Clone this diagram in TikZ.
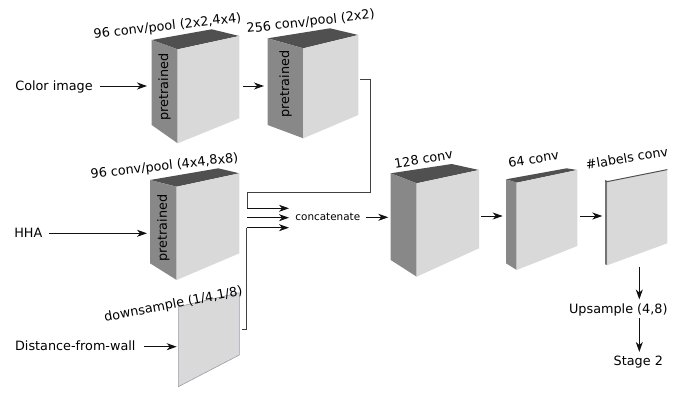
\documentclass[tikz,border=0pt]{standalone}
\usepackage{fontspec}
\setmainfont{DejaVu Sans}
\usetikzlibrary{arrows.meta}
\definecolor{topc}{HTML}{505050}
\definecolor{sidec}{HTML}{888888}
\definecolor{frontc}{HTML}{D9D9D9}
\definecolor{planeedge}{HTML}{9C9CAA}
\definecolor{linec}{HTML}{111111}
\newcommand{\cubebox}[8]{%
  \coordinate (#1-1) at (#2);
  \coordinate (#1-2) at (#3);
  \coordinate (#1-3) at (#4);
  \coordinate (#1-4) at (#5);
  \coordinate (#1-5) at (#6);
  \coordinate (#1-6) at (#7);
  \coordinate (#1-7) at (#8);
  \fill[topc] (#1-1)--(#1-2)--(#1-3)--(#1-4)--cycle;
  \fill[sidec] (#1-1)--(#1-4)--(#1-6)--(#1-5)--cycle;
  \fill[frontc] (#1-4)--(#1-3)--(#1-7)--(#1-6)--cycle;
}
\tikzset{
  txt/.style={font=\fontsize{12.8}{15}\selectfont, inner sep=0pt, anchor=base},
  lbl/.style={font=\fontsize{12.8}{15}\selectfont, inner sep=0pt, anchor=base west},
  small/.style={font=\fontsize{10.4}{12}\selectfont, inner sep=0pt, anchor=base},
  pre/.style={font=\fontsize{12.8}{15}\selectfont, inner sep=0pt, rotate=90},
  conn/.style={draw=linec, line width=1pt, -{Stealth[length=10pt,width=7pt,inset=3pt]}},
  wire/.style={draw=linec!80!white, line width=1pt},
}
\begin{document}
\begin{tikzpicture}[x=1pt,y=-1pt]
\useasboundingbox (0,0) rectangle (688,394);

% cubes
\cubebox{b1}{151.7,40}{211.7,29.3}{239.3,36}{177.7,49.3}{151.7,125}{177.7,143.3}{239.3,118.3}
\cubebox{b2}{267.7,38.3}{330,28.3}{358.3,35}{303.3,48.3}{267.7,125}{303.3,138.3}{358.3,115}
\cubebox{b3}{150,180}{218.3,168.3}{239.3,173.3}{176.7,186.7}{150,263.3}{176.7,280}{239.3,253.3}
\cubebox{b4}{390.7,173.3}{451.7,164}{479,170}{416.7,183.3}{390.7,260}{416.7,276.7}{479,248.3}
\cubebox{b5}{506,179.3}{566.7,168.3}{577.3,170}{516.7,182.7}{506,263.3}{516.7,270}{577.3,246}
% labels plane
\coordinate (b6-1) at (605,180.6);
\coordinate (b6-4) at (607.4,181.6);
\coordinate (b6-3) at (667.3,169.6);
\coordinate (b6-7) at (667.3,243.3);
\coordinate (b6-6) at (607.4,265.2);
\coordinate (b6-5) at (605,264.2);
\fill[sidec!85!black] (b6-1)--(b6-4)--(b6-6)--(b6-5)--cycle;
\fill[frontc] (b6-4)--(b6-3)--(b6-7)--(b6-6)--cycle;
\draw[topc, line width=1pt] (b6-1)--(b6-4)--(b6-3);
% distance plane
\filldraw[fill=frontc, draw=planeedge, line width=0.6pt] (178.3,306.7) coordinate (pl-1) -- (239.3,292.7) coordinate (pl-2) -- (239.3,355) coordinate (pl-3) -- (178.3,386.7) coordinate (pl-4) -- cycle;

% pretrained texts
\node[pre] (p1) at (164.5,87) {pretrained};
\node[pre] (p2) at (285.5,84) {pretrained};
\node[pre] (p3) at (163.3,228) {pretrained};

% rotated labels
\node[lbl, rotate=6.5] (l1) at (94,38.5) {96 conv/pool (2x2,4x4)};
\node[lbl, rotate=6.5] (l2) at (247,33) {256 conv/pool (2x2)};
\node[lbl, rotate=6.5] (l3) at (91,178.5) {96 conv/pool (4x4,8x8)};
\node[lbl, rotate=11] (l4) at (105,321.7) {downsample (1/4,1/8)};
\node[lbl, rotate=9.5] (l5) at (395,168.5) {128 conv};
\node[lbl, rotate=9] (l6) at (509,167.5) {64 conv};
\node[lbl, rotate=9.5] (l7) at (586.5,169.5) {\#labels conv};

% inputs
\node[txt] (ci) at (54,90) {Color image};
\node[txt] (hha) at (28.3,237.3) {HHA};
\node[txt] (dfw) at (75.3,350) {Distance-from-wall};
\node[small] (cat) at (327.8,220.5) {concatenate};
\node[txt] (up) at (618.3,313.3) {Upsample (4,8)};
\node[txt] (st) at (638.3,365) {Stage 2};

% arrow endpoints
\coordinate (ciA) at (100,86);
\coordinate (b1in) at (147,86);
\coordinate (b1out) at (242.7,86);
\coordinate (b2in) at (264,86);
\coordinate (hhaA) at (49.3,233.3);
\coordinate (b3in) at (147,233.3);
\coordinate (dfwA) at (144,346.7);
\coordinate (plin) at (176.7,346.7);
\coordinate (b2out) at (360,79.3);
\coordinate (k1) at (370.7,79.3);
\coordinate (k2) at (370.7,192.7);
\coordinate (k3) at (247.3,192.7);
\coordinate (k4) at (247.3,208.3);
\coordinate (c1) at (289,208.3);
\coordinate (b3out) at (247.3,217.7);
\coordinate (c2) at (289,217.7);
\coordinate (plout) at (241.7,329.3);
\coordinate (m1) at (246.7,329.3);
\coordinate (m2) at (246.7,227.7);
\coordinate (c3) at (289,227.7);
\coordinate (catout) at (365.5,217.3);
\coordinate (b4in) at (388.3,217.3);
\coordinate (b4out) at (481,216);
\coordinate (b5in) at (502.7,216);
\coordinate (b5out) at (580,216);
\coordinate (b6in) at (602.3,216);
\coordinate (b6out) at (639.3,266.7);
\coordinate (upin) at (639.3,299.5);
\coordinate (upout) at (639.3,318.3);
\coordinate (stin) at (639.3,352);

% connectors
\draw[conn] (ciA) -- (b1in);
\draw[conn] (b1out) -- (b2in);
\draw[conn] (hhaA) -- (b3in);
\draw[conn] (dfwA) -- (plin);
\draw[wire] (b2out) -- (k1) -- (k2) -- (k3) -- (k4);
\draw[conn] (k4) -- (c1);
\draw[conn] (b3out) -- (c2);
\draw[wire] (plout) -- (m1) -- (m2);
\draw[conn] (m2) -- (c3);
\draw[conn] (catout) -- (b4in);
\draw[conn] (b4out) -- (b5in);
\draw[conn] (b5out) -- (b6in);
\draw[conn] (b6out) -- (upin);
\draw[conn] (upout) -- (stin);
\end{tikzpicture}
\end{document}
